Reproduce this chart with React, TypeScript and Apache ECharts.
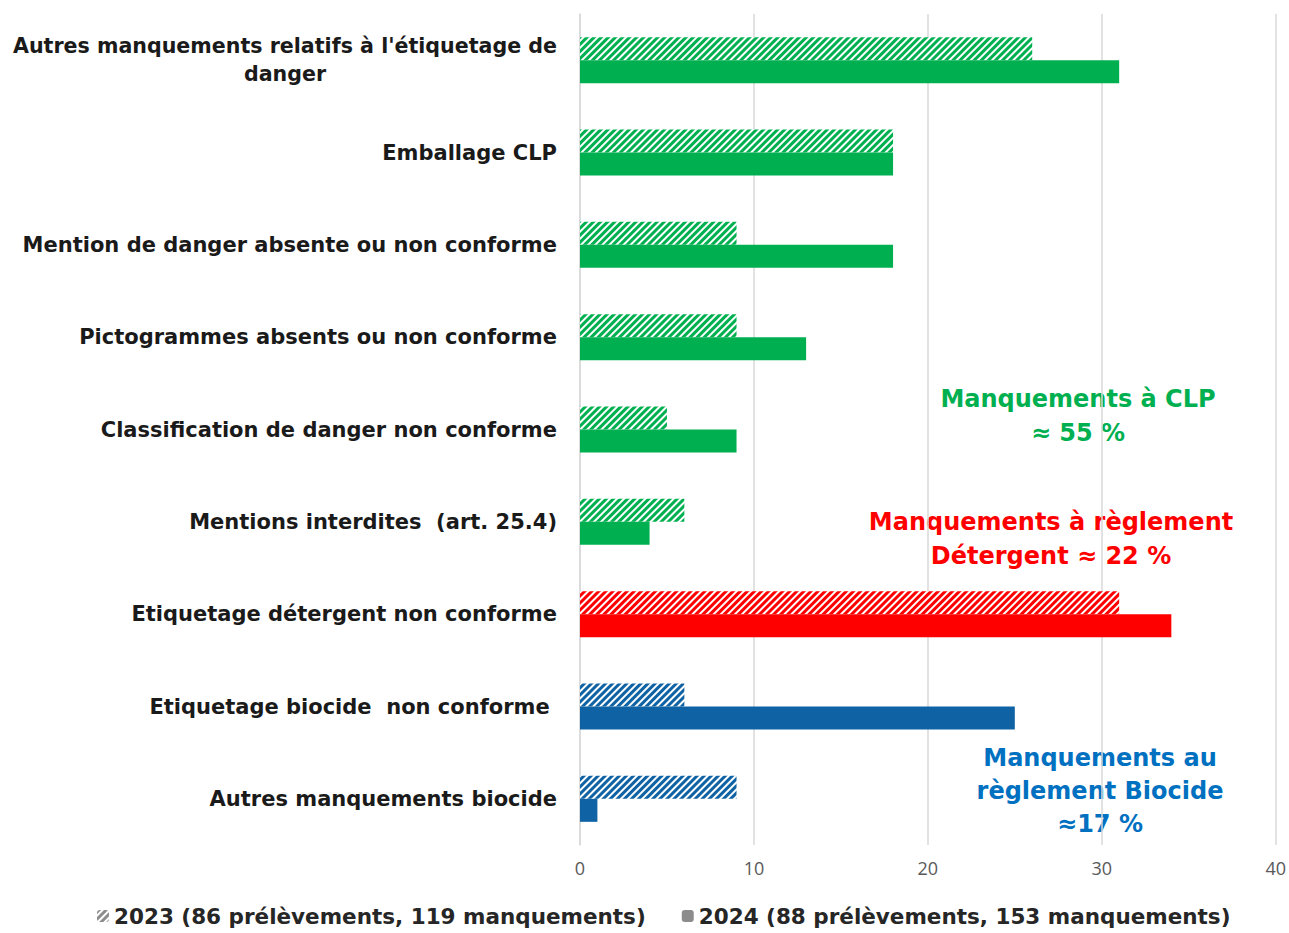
import React, { useEffect, useRef } from "react";
import * as echarts from "echarts";

const categories = [
  "Autres manquements relatifs à l'étiquetage de\ndanger",
  "Emballage CLP",
  "Mention de danger absente ou non conforme",
  "Pictogrammes absents ou non conforme",
  "Classification de danger non conforme",
  "Mentions interdites  (art. 25.4)",
  "Etiquetage détergent non conforme",
  "Etiquetage biocide  non conforme ",
  "Autres manquements biocide",
];
const values2023 = [26, 18, 9, 9, 5, 6, 31, 6, 9];
const values2024 = [31, 18, 18, 13, 9, 4, 34, 25, 1];
const groupColors = ["#00B050", "#00B050", "#00B050", "#00B050", "#00B050", "#00B050", "#FF0000", "#0F62A3", "#0F62A3"];
const seriesNames = ["2023 (86 prélèvements, 119 manquements)", "2024 (88 prélèvements, 153 manquements)"];
const xTicks = { min: 0, max: 40, interval: 10 };

const hatch = (color: string) => ({
  symbol: "rect",
  symbolSize: 1,
  color,
  dashArrayX: [1, 0],
  dashArrayY: [3, 2],
  rotation: -Math.PI / 4,
});

export default function App() {
  const ref = useRef<HTMLDivElement>(null);
  useEffect(() => {
    document.body.style.margin = "0";
    const chart = echarts.init(ref.current!, undefined, { renderer: "svg" });
    const font = "'DejaVu Sans', sans-serif";
    chart.setOption({
      animation: false,
      backgroundColor: "#ffffff",
      grid: { left: 580, right: 12, top: 14, bottom: 88, containLabel: false },
      legend: {
        bottom: 1,
        left: 92,
        itemWidth: 12,
        itemHeight: 12,
        itemGap: 36,
        textStyle: { fontFamily: font, fontWeight: "bold", fontSize: 21.5, color: "#262626" },
        data: [
          { name: seriesNames[0], itemStyle: { color: "#ffffff", decal: hatch("#8c8c8c") } },
          { name: seriesNames[1], itemStyle: { color: "#8c8c8c" } },
        ],
      },
      xAxis: {
        type: "value",
        min: xTicks.min,
        max: xTicks.max,
        interval: xTicks.interval,
        axisLine: { show: false },
        axisTick: { show: false },
        splitLine: { lineStyle: { color: "#d9d9d9", width: 1.5 } },
        axisLabel: { color: "#595959", fontSize: 18, fontFamily: "'Open Sans', sans-serif", margin: 14 },
      },
      yAxis: {
        type: "category",
        inverse: true,
        data: categories,
        axisLine: { show: true, lineStyle: { color: "#d9d9d9", width: 1.5 } },
        axisTick: { show: false },
        axisLabel: {
          margin: 23,
          fontFamily: font,
          fontWeight: "bold",
          fontSize: 21,
          color: "#1a1a1a",
          lineHeight: 28,
          formatter: (v: string) => (v.includes("\n") ? `{c|${v}}` : v),
          rich: {
            c: { width: 544, align: "center", fontFamily: font, fontWeight: "bold", fontSize: 20.6, color: "#1a1a1a", lineHeight: 28 },
          },
        },
      },
      series: [
        {
          name: seriesNames[0],
          type: "bar",
          barWidth: 23,
          barGap: "0%",
          itemStyle: { color: "#ffffff", decal: hatch("#8c8c8c") },
          data: values2023.map((v, i) => ({
            value: v,
            itemStyle: { color: "#ffffff", decal: hatch(groupColors[i]) },
          })),
        },
        {
          name: seriesNames[1],
          type: "bar",
          barWidth: 23,
          barGap: "0%",
          itemStyle: { color: "#8c8c8c" },
          data: values2024.map((v, i) => ({ value: v, itemStyle: { color: groupColors[i] } })),
        },
      ],
      graphic: [
        {
          type: "text",
          x: 1078,
          y: 382,
          style: { text: "Manquements à CLP\n≈ 55 %", fill: "#00B050", font: `bold 24px ${font}`, align: "center", lineHeight: 34 },
        },
        {
          type: "text",
          x: 1051,
          y: 505,
          style: { text: "Manquements à règlement\nDétergent ≈ 22 %", fill: "#FF0000", font: `bold 24px ${font}`, align: "center", lineHeight: 34 },
        },
        {
          type: "text",
          x: 1100,
          y: 741,
          style: { text: "Manquements au\nrèglement Biocide\n≈17 %", fill: "#0070C0", font: `bold 24px ${font}`, align: "center", lineHeight: 33 },
        },
      ],
    });
    return () => chart.dispose();
  }, []);
  return <div ref={ref} style={{ width: 1289, height: 933 }} />;
}
